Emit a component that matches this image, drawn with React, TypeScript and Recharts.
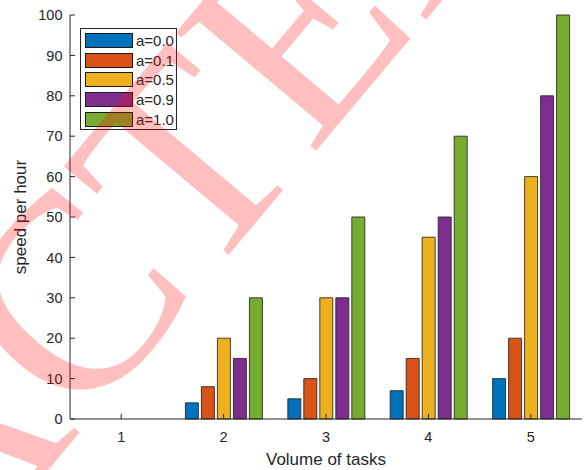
import { BarChart, Bar, XAxis, YAxis, Legend } from 'recharts'

// task volumes on the x axis
const volumes = ['1', '2', '3', '4', '5']

// one series per a value
const seriesNames = ['a=0.0', 'a=0.1', 'a=0.5', 'a=0.9', 'a=1.0']
const speedA00 = [0, 4, 5, 7, 10]
const speedA01 = [0, 8, 10, 15, 20]
const speedA05 = [0, 20, 30, 45, 60]
const speedA09 = [0, 15, 30, 50, 80]
const speedA10 = [0, 30, 50, 70, 100]

const yTicks = [0, 10, 20, 30, 40, 50, 60, 70, 80, 90, 100]

const seriesValues = [speedA00, speedA01, speedA05, speedA09, speedA10]
const colors = ['#0072BD', '#D95319', '#EDB120', '#7E2F8E', '#77AC30']

const FONT = '"Liberation Sans", Arial, Helvetica, sans-serif'
const INK = '#262626'

const data = volumes.map((v, i) => {
    const row: Record<string, string | number> = { volume: v }
    seriesValues.forEach((vals, s) => {
        row['s' + s] = vals[i]
    })
    return row
})

function MatlabLegend({ payload }: any) {
    return (
        <div
            style={{
                boxSizing: 'border-box',
                width: 97,
                height: 102,
                border: `1px solid ${INK}`,
                background: '#fff',
                padding: '2px 0 0 4px',
                fontFamily: FONT,
                fontSize: 15,
                color: INK,
            }}
        >
            {(payload || []).map((p: any) => (
                <div key={p.value} style={{ display: 'flex', alignItems: 'center', height: 19.6 }}>
                    <span
                        style={{
                            boxSizing: 'border-box',
                            display: 'inline-block',
                            width: 48,
                            height: 15,
                            background: p.color,
                            border: '1px solid #1a1a1a',
                        }}
                    />
                    <span style={{ marginLeft: 3, lineHeight: '15px' }}>{p.value}</span>
                </div>
            ))}
        </div>
    )
}

export default function App() {
    return (
        <div style={{ position: 'fixed', left: 0, top: 0, width: 587, height: 470, background: '#fff' }}>
            <BarChart
                width={587}
                height={470}
                data={data}
                margin={{ top: 15, right: 5, left: 0, bottom: 0 }}
                barSize={13}
                barGap={3}
            >
                <XAxis
                    dataKey="volume"
                    height={51}
                    stroke={INK}
                    tickSize={-5}
                    tickMargin={18}
                    tick={{ fill: INK, fontSize: 14.5, fontFamily: FONT }}
                    label={({ viewBox }: any) => (
                        <text
                            x={viewBox.x + viewBox.width / 2}
                            y={465}
                            textAnchor="middle"
                            fill={INK}
                            fontSize={17}
                            fontFamily={FONT}
                        >
                            Volume of tasks
                        </text>
                    )}
                />
                <XAxis
                    xAxisId="top"
                    dataKey="volume"
                    orientation="top"
                    height={0}
                    stroke={INK}
                    tickSize={-5}
                    tickFormatter={() => ''}
                />
                <YAxis
                    width={70}
                    domain={[0, 100]}
                    ticks={yTicks}
                    stroke={INK}
                    tickSize={-5}
                    tickMargin={12.5}
                    tick={{ fill: INK, fontSize: 14.5, fontFamily: FONT }}
                    label={() => (
                        <text
                            x={25.5}
                            y={217}
                            transform="rotate(-90 25.5 217)"
                            textAnchor="middle"
                            fill={INK}
                            fontSize={17}
                            fontFamily={FONT}
                        >
                            speed per hour
                        </text>
                    )}
                />
                <YAxis
                    yAxisId="right"
                    orientation="right"
                    width={0}
                    domain={[0, 100]}
                    ticks={yTicks}
                    stroke={INK}
                    tickSize={-5}
                    tickFormatter={() => ''}
                />
                <Legend
                    layout="vertical"
                    align="center"
                    verticalAlign="middle"
                    content={<MatlabLegend />}
                    wrapperStyle={{ position: 'absolute', left: 80, top: 28, width: 97, height: 102 }}
                />
                {seriesNames.map((name, s) => (
                    <Bar
                        key={name}
                        dataKey={'s' + s}
                        name={name}
                        fill={colors[s]}
                        stroke="#1a1a1a"
                        strokeWidth={0.8}
                        isAnimationActive={false}
                    />
                ))}
            </BarChart>
            {/* diagonal watermark over the figure */}
            <svg
                width={587}
                height={470}
                style={{ position: 'absolute', left: 0, top: 0, pointerEvents: 'none', zIndex: 5 }}
            >
                <text
                    x={-509}
                    y={1134}
                    transform="rotate(-50 -509 1134)"
                    fill="#ff0000"
                    fillOpacity={0.25}
                    fontSize={280}
                    fontFamily='"Liberation Serif", "Times New Roman", serif'
                >
                    RETRACTED
                </text>
            </svg>
        </div>
    )
}
